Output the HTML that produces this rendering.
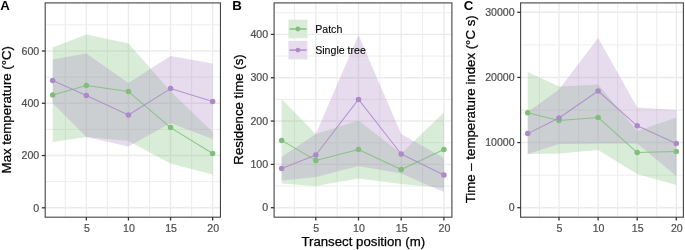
<!DOCTYPE html>
<html><head><meta charset="utf-8"><style>
html,body{margin:0;padding:0;background:#fff;}
body{width:685px;height:250px;overflow:hidden;}
svg{display:block;will-change:transform;}
text{font-family:"Liberation Sans",sans-serif;}
.tk{font-size:10.6px;fill:#4d4d4d;stroke:#4d4d4d;stroke-width:0.2px;}
.ti{font-size:13.24px;fill:#000;stroke:#000;stroke-width:0.25px;}
.lg{font-size:10.6px;fill:#000;stroke:#000;stroke-width:0.1px;}
.tag{font-size:13.24px;font-weight:bold;fill:#000;}
</style></head><body>
<svg width="685" height="250" viewBox="0 0 685 250">
<rect width="685" height="250" fill="#fff"/>
<line x1="65.30" y1="2.9" x2="65.30" y2="217.2" stroke="#ebebeb" stroke-width="0.9"/>
<line x1="107.40" y1="2.9" x2="107.40" y2="217.2" stroke="#ebebeb" stroke-width="0.9"/>
<line x1="149.50" y1="2.9" x2="149.50" y2="217.2" stroke="#ebebeb" stroke-width="0.9"/>
<line x1="191.60" y1="2.9" x2="191.60" y2="217.2" stroke="#ebebeb" stroke-width="0.9"/>
<line x1="45.2" y1="181.67" x2="220.45" y2="181.67" stroke="#ebebeb" stroke-width="0.9"/>
<line x1="45.2" y1="129.41" x2="220.45" y2="129.41" stroke="#ebebeb" stroke-width="0.9"/>
<line x1="45.2" y1="77.15" x2="220.45" y2="77.15" stroke="#ebebeb" stroke-width="0.9"/>
<line x1="45.2" y1="24.89" x2="220.45" y2="24.89" stroke="#ebebeb" stroke-width="0.9"/>
<line x1="86.35" y1="2.9" x2="86.35" y2="217.2" stroke="#ebebeb" stroke-width="1.4"/>
<line x1="128.45" y1="2.9" x2="128.45" y2="217.2" stroke="#ebebeb" stroke-width="1.4"/>
<line x1="170.55" y1="2.9" x2="170.55" y2="217.2" stroke="#ebebeb" stroke-width="1.4"/>
<line x1="212.65" y1="2.9" x2="212.65" y2="217.2" stroke="#ebebeb" stroke-width="1.4"/>
<line x1="45.2" y1="207.80" x2="220.45" y2="207.80" stroke="#ebebeb" stroke-width="1.4"/>
<line x1="45.2" y1="155.54" x2="220.45" y2="155.54" stroke="#ebebeb" stroke-width="1.4"/>
<line x1="45.2" y1="103.28" x2="220.45" y2="103.28" stroke="#ebebeb" stroke-width="1.4"/>
<line x1="45.2" y1="51.02" x2="220.45" y2="51.02" stroke="#ebebeb" stroke-width="1.4"/>
<path d="M52.67,47.60 L86.35,34.40 L128.45,43.60 L170.55,91.30 L212.65,132.00 L212.65,174.40 L170.55,163.60 L128.45,141.00 L86.35,137.00 L52.67,142.00 Z" fill="#7fbf7b" fill-opacity="0.3"/>
<path d="M52.67,59.60 L86.35,53.60 L128.45,83.00 L170.55,56.00 L212.65,63.60 L212.65,139.00 L170.55,123.00 L128.45,146.60 L86.35,137.00 L52.67,103.00 Z" fill="#ac8ac8" fill-opacity="0.3"/>
<path d="M52.67,95.00 L86.35,85.40 L128.45,91.60 L170.55,127.60 L212.65,153.50" fill="none" stroke="#7fbf7b" stroke-width="1.05" stroke-opacity="0.85" stroke-linejoin="round"/>
<circle cx="52.67" cy="95.00" r="2.75" fill="#7fbf7b"/>
<circle cx="86.35" cy="85.40" r="2.75" fill="#7fbf7b"/>
<circle cx="128.45" cy="91.60" r="2.75" fill="#7fbf7b"/>
<circle cx="170.55" cy="127.60" r="2.75" fill="#7fbf7b"/>
<circle cx="212.65" cy="153.50" r="2.75" fill="#7fbf7b"/>
<path d="M52.67,80.60 L86.35,95.60 L128.45,115.00 L170.55,88.60 L212.65,101.60" fill="none" stroke="#ac8ac8" stroke-width="1.05" stroke-opacity="0.85" stroke-linejoin="round"/>
<circle cx="52.67" cy="80.60" r="2.75" fill="#ac8ac8"/>
<circle cx="86.35" cy="95.60" r="2.75" fill="#ac8ac8"/>
<circle cx="128.45" cy="115.00" r="2.75" fill="#ac8ac8"/>
<circle cx="170.55" cy="88.60" r="2.75" fill="#ac8ac8"/>
<circle cx="212.65" cy="101.60" r="2.75" fill="#ac8ac8"/>
<rect x="45.2" y="2.9" width="175.25" height="214.30" fill="none" stroke="#444" stroke-width="1.1"/>
<line x1="41.90" y1="207.80" x2="45.2" y2="207.80" stroke="#333" stroke-width="1.3"/>
<text x="39.25" y="211.55" text-anchor="end" class="tk">0</text>
<line x1="41.90" y1="155.54" x2="45.2" y2="155.54" stroke="#333" stroke-width="1.3"/>
<text x="39.25" y="159.29" text-anchor="end" class="tk">200</text>
<line x1="41.90" y1="103.28" x2="45.2" y2="103.28" stroke="#333" stroke-width="1.3"/>
<text x="39.25" y="107.03" text-anchor="end" class="tk">400</text>
<line x1="41.90" y1="51.02" x2="45.2" y2="51.02" stroke="#333" stroke-width="1.3"/>
<text x="39.25" y="54.77" text-anchor="end" class="tk">600</text>
<line x1="86.35" y1="217.2" x2="86.35" y2="220.50" stroke="#333" stroke-width="1.3"/>
<text x="86.85" y="232.0" text-anchor="middle" class="tk">5</text>
<line x1="128.45" y1="217.2" x2="128.45" y2="220.50" stroke="#333" stroke-width="1.3"/>
<text x="128.95" y="232.0" text-anchor="middle" class="tk">10</text>
<line x1="170.55" y1="217.2" x2="170.55" y2="220.50" stroke="#333" stroke-width="1.3"/>
<text x="171.05" y="232.0" text-anchor="middle" class="tk">15</text>
<line x1="212.65" y1="217.2" x2="212.65" y2="220.50" stroke="#333" stroke-width="1.3"/>
<text x="213.15" y="232.0" text-anchor="middle" class="tk">20</text>
<line x1="294.45" y1="2.9" x2="294.45" y2="217.2" stroke="#ebebeb" stroke-width="0.9"/>
<line x1="337.15" y1="2.9" x2="337.15" y2="217.2" stroke="#ebebeb" stroke-width="0.9"/>
<line x1="379.85" y1="2.9" x2="379.85" y2="217.2" stroke="#ebebeb" stroke-width="0.9"/>
<line x1="422.55" y1="2.9" x2="422.55" y2="217.2" stroke="#ebebeb" stroke-width="0.9"/>
<line x1="274.1" y1="186.04" x2="451.9" y2="186.04" stroke="#ebebeb" stroke-width="0.9"/>
<line x1="274.1" y1="142.71" x2="451.9" y2="142.71" stroke="#ebebeb" stroke-width="0.9"/>
<line x1="274.1" y1="99.39" x2="451.9" y2="99.39" stroke="#ebebeb" stroke-width="0.9"/>
<line x1="274.1" y1="56.06" x2="451.9" y2="56.06" stroke="#ebebeb" stroke-width="0.9"/>
<line x1="274.1" y1="12.74" x2="451.9" y2="12.74" stroke="#ebebeb" stroke-width="0.9"/>
<line x1="315.80" y1="2.9" x2="315.80" y2="217.2" stroke="#ebebeb" stroke-width="1.4"/>
<line x1="358.50" y1="2.9" x2="358.50" y2="217.2" stroke="#ebebeb" stroke-width="1.4"/>
<line x1="401.20" y1="2.9" x2="401.20" y2="217.2" stroke="#ebebeb" stroke-width="1.4"/>
<line x1="443.90" y1="2.9" x2="443.90" y2="217.2" stroke="#ebebeb" stroke-width="1.4"/>
<line x1="274.1" y1="207.70" x2="451.9" y2="207.70" stroke="#ebebeb" stroke-width="1.4"/>
<line x1="274.1" y1="164.38" x2="451.9" y2="164.38" stroke="#ebebeb" stroke-width="1.4"/>
<line x1="274.1" y1="121.05" x2="451.9" y2="121.05" stroke="#ebebeb" stroke-width="1.4"/>
<line x1="274.1" y1="77.72" x2="451.9" y2="77.72" stroke="#ebebeb" stroke-width="1.4"/>
<line x1="274.1" y1="34.40" x2="451.9" y2="34.40" stroke="#ebebeb" stroke-width="1.4"/>
<path d="M281.64,99.00 L315.80,134.00 L358.50,120.60 L401.20,153.40 L443.90,112.60 L443.90,188.00 L401.20,184.00 L358.50,178.50 L315.80,186.00 L281.64,183.40 Z" fill="#7fbf7b" fill-opacity="0.3"/>
<path d="M281.64,157.00 L315.80,134.00 L358.50,35.00 L401.20,134.00 L443.90,158.00 L443.90,192.00 L401.20,173.50 L358.50,166.00 L315.80,177.00 L281.64,180.60 Z" fill="#ac8ac8" fill-opacity="0.3"/>
<path d="M281.64,140.40 L315.80,160.40 L358.50,149.40 L401.20,169.50 L443.90,149.50" fill="none" stroke="#7fbf7b" stroke-width="1.05" stroke-opacity="0.85" stroke-linejoin="round"/>
<circle cx="281.64" cy="140.40" r="2.75" fill="#7fbf7b"/>
<circle cx="315.80" cy="160.40" r="2.75" fill="#7fbf7b"/>
<circle cx="358.50" cy="149.40" r="2.75" fill="#7fbf7b"/>
<circle cx="401.20" cy="169.50" r="2.75" fill="#7fbf7b"/>
<circle cx="443.90" cy="149.50" r="2.75" fill="#7fbf7b"/>
<path d="M281.64,168.60 L315.80,155.00 L358.50,99.40 L401.20,154.00 L443.90,175.00" fill="none" stroke="#ac8ac8" stroke-width="1.05" stroke-opacity="0.85" stroke-linejoin="round"/>
<circle cx="281.64" cy="168.60" r="2.75" fill="#ac8ac8"/>
<circle cx="315.80" cy="155.00" r="2.75" fill="#ac8ac8"/>
<circle cx="358.50" cy="99.40" r="2.75" fill="#ac8ac8"/>
<circle cx="401.20" cy="154.00" r="2.75" fill="#ac8ac8"/>
<circle cx="443.90" cy="175.00" r="2.75" fill="#ac8ac8"/>
<rect x="274.1" y="2.9" width="177.80" height="214.30" fill="none" stroke="#444" stroke-width="1.1"/>
<line x1="270.80" y1="207.70" x2="274.1" y2="207.70" stroke="#333" stroke-width="1.3"/>
<text x="268.15" y="211.45" text-anchor="end" class="tk">0</text>
<line x1="270.80" y1="164.38" x2="274.1" y2="164.38" stroke="#333" stroke-width="1.3"/>
<text x="268.15" y="168.12" text-anchor="end" class="tk">100</text>
<line x1="270.80" y1="121.05" x2="274.1" y2="121.05" stroke="#333" stroke-width="1.3"/>
<text x="268.15" y="124.80" text-anchor="end" class="tk">200</text>
<line x1="270.80" y1="77.72" x2="274.1" y2="77.72" stroke="#333" stroke-width="1.3"/>
<text x="268.15" y="81.47" text-anchor="end" class="tk">300</text>
<line x1="270.80" y1="34.40" x2="274.1" y2="34.40" stroke="#333" stroke-width="1.3"/>
<text x="268.15" y="38.15" text-anchor="end" class="tk">400</text>
<line x1="315.80" y1="217.2" x2="315.80" y2="220.50" stroke="#333" stroke-width="1.3"/>
<text x="316.30" y="232.0" text-anchor="middle" class="tk">5</text>
<line x1="358.50" y1="217.2" x2="358.50" y2="220.50" stroke="#333" stroke-width="1.3"/>
<text x="359.00" y="232.0" text-anchor="middle" class="tk">10</text>
<line x1="401.20" y1="217.2" x2="401.20" y2="220.50" stroke="#333" stroke-width="1.3"/>
<text x="401.70" y="232.0" text-anchor="middle" class="tk">15</text>
<line x1="443.90" y1="217.2" x2="443.90" y2="220.50" stroke="#333" stroke-width="1.3"/>
<text x="444.40" y="232.0" text-anchor="middle" class="tk">20</text>
<line x1="539.45" y1="2.9" x2="539.45" y2="217.2" stroke="#ebebeb" stroke-width="0.9"/>
<line x1="578.55" y1="2.9" x2="578.55" y2="217.2" stroke="#ebebeb" stroke-width="0.9"/>
<line x1="617.65" y1="2.9" x2="617.65" y2="217.2" stroke="#ebebeb" stroke-width="0.9"/>
<line x1="656.75" y1="2.9" x2="656.75" y2="217.2" stroke="#ebebeb" stroke-width="0.9"/>
<line x1="520.6" y1="175.13" x2="683.4" y2="175.13" stroke="#ebebeb" stroke-width="0.9"/>
<line x1="520.6" y1="110.00" x2="683.4" y2="110.00" stroke="#ebebeb" stroke-width="0.9"/>
<line x1="520.6" y1="44.87" x2="683.4" y2="44.87" stroke="#ebebeb" stroke-width="0.9"/>
<line x1="559.00" y1="2.9" x2="559.00" y2="217.2" stroke="#ebebeb" stroke-width="1.4"/>
<line x1="598.10" y1="2.9" x2="598.10" y2="217.2" stroke="#ebebeb" stroke-width="1.4"/>
<line x1="637.20" y1="2.9" x2="637.20" y2="217.2" stroke="#ebebeb" stroke-width="1.4"/>
<line x1="676.30" y1="2.9" x2="676.30" y2="217.2" stroke="#ebebeb" stroke-width="1.4"/>
<line x1="520.6" y1="207.70" x2="683.4" y2="207.70" stroke="#ebebeb" stroke-width="1.4"/>
<line x1="520.6" y1="142.57" x2="683.4" y2="142.57" stroke="#ebebeb" stroke-width="1.4"/>
<line x1="520.6" y1="77.43" x2="683.4" y2="77.43" stroke="#ebebeb" stroke-width="1.4"/>
<line x1="520.6" y1="12.30" x2="683.4" y2="12.30" stroke="#ebebeb" stroke-width="1.4"/>
<path d="M527.72,72.00 L559.00,86.50 L598.10,84.40 L637.20,131.00 L676.30,117.50 L676.30,185.00 L637.20,174.00 L598.10,150.00 L559.00,153.60 L527.72,154.00 Z" fill="#7fbf7b" fill-opacity="0.3"/>
<path d="M527.72,112.00 L559.00,89.50 L598.10,38.00 L637.20,107.50 L676.30,110.00 L676.30,176.00 L637.20,143.50 L598.10,143.50 L559.00,144.00 L527.72,154.00 Z" fill="#ac8ac8" fill-opacity="0.3"/>
<path d="M527.72,112.80 L559.00,120.60 L598.10,117.40 L637.20,152.60 L676.30,151.60" fill="none" stroke="#7fbf7b" stroke-width="1.05" stroke-opacity="0.85" stroke-linejoin="round"/>
<circle cx="527.72" cy="112.80" r="2.75" fill="#7fbf7b"/>
<circle cx="559.00" cy="120.60" r="2.75" fill="#7fbf7b"/>
<circle cx="598.10" cy="117.40" r="2.75" fill="#7fbf7b"/>
<circle cx="637.20" cy="152.60" r="2.75" fill="#7fbf7b"/>
<circle cx="676.30" cy="151.60" r="2.75" fill="#7fbf7b"/>
<path d="M527.72,133.60 L559.00,118.00 L598.10,91.00 L637.20,125.80 L676.30,143.40" fill="none" stroke="#ac8ac8" stroke-width="1.05" stroke-opacity="0.85" stroke-linejoin="round"/>
<circle cx="527.72" cy="133.60" r="2.75" fill="#ac8ac8"/>
<circle cx="559.00" cy="118.00" r="2.75" fill="#ac8ac8"/>
<circle cx="598.10" cy="91.00" r="2.75" fill="#ac8ac8"/>
<circle cx="637.20" cy="125.80" r="2.75" fill="#ac8ac8"/>
<circle cx="676.30" cy="143.40" r="2.75" fill="#ac8ac8"/>
<rect x="520.6" y="2.9" width="162.80" height="214.30" fill="none" stroke="#444" stroke-width="1.1"/>
<line x1="517.30" y1="207.70" x2="520.6" y2="207.70" stroke="#333" stroke-width="1.3"/>
<text x="514.65" y="211.45" text-anchor="end" class="tk">0</text>
<line x1="517.30" y1="142.57" x2="520.6" y2="142.57" stroke="#333" stroke-width="1.3"/>
<text x="514.65" y="146.32" text-anchor="end" class="tk">10000</text>
<line x1="517.30" y1="77.43" x2="520.6" y2="77.43" stroke="#333" stroke-width="1.3"/>
<text x="514.65" y="81.18" text-anchor="end" class="tk">20000</text>
<line x1="517.30" y1="12.30" x2="520.6" y2="12.30" stroke="#333" stroke-width="1.3"/>
<text x="514.65" y="16.05" text-anchor="end" class="tk">30000</text>
<line x1="559.00" y1="217.2" x2="559.00" y2="220.50" stroke="#333" stroke-width="1.3"/>
<text x="559.50" y="232.0" text-anchor="middle" class="tk">5</text>
<line x1="598.10" y1="217.2" x2="598.10" y2="220.50" stroke="#333" stroke-width="1.3"/>
<text x="598.60" y="232.0" text-anchor="middle" class="tk">10</text>
<line x1="637.20" y1="217.2" x2="637.20" y2="220.50" stroke="#333" stroke-width="1.3"/>
<text x="637.70" y="232.0" text-anchor="middle" class="tk">15</text>
<line x1="676.30" y1="217.2" x2="676.30" y2="220.50" stroke="#333" stroke-width="1.3"/>
<text x="676.80" y="232.0" text-anchor="middle" class="tk">20</text>
<text transform="translate(11.4,109.7) rotate(-90)" text-anchor="middle" class="ti">Max temperature (°C)</text>
<text transform="translate(242.8,109.5) rotate(-90)" text-anchor="middle" class="ti">Residence time (s)</text>
<text transform="translate(475,109.3) rotate(-90)" text-anchor="middle" class="ti">Time – temperature index (°C s)</text>
<text x="363.3" y="246.2" text-anchor="middle" class="ti">Transect position (m)</text>
<text x="0.3" y="9.8" class="tag">A</text>
<text x="232.2" y="9.8" class="tag">B</text>
<text x="463.8" y="9.8" class="tag">C</text>
<rect x="288.4" y="19.7" width="19.1" height="18.6" fill="#fff"/>
<rect x="288.4" y="19.7" width="19.1" height="18.6" fill="#7fbf7b" fill-opacity="0.3"/>
<line x1="289.5" y1="29.00" x2="306.5" y2="29.00" stroke="#7fbf7b" stroke-width="1.4"/>
<circle cx="297.9" cy="29.00" r="2.4" fill="#7fbf7b"/>
<text x="315.2" y="32.70" class="lg">Patch</text>
<rect x="288.4" y="40.8" width="19.1" height="18.6" fill="#fff"/>
<rect x="288.4" y="40.8" width="19.1" height="18.6" fill="#ac8ac8" fill-opacity="0.3"/>
<line x1="289.5" y1="50.10" x2="306.5" y2="50.10" stroke="#ac8ac8" stroke-width="1.4"/>
<circle cx="297.9" cy="50.10" r="2.4" fill="#ac8ac8"/>
<text x="315.2" y="53.80" class="lg">Single tree</text>
</svg>
</body></html>
